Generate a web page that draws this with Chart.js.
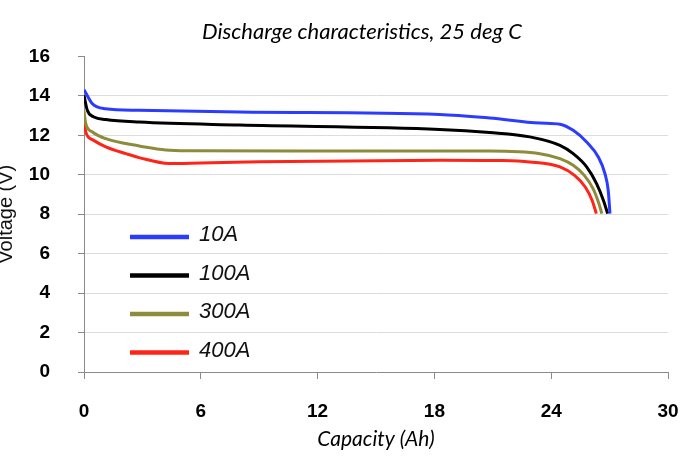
<!DOCTYPE html>
<html>
<head>
<meta charset="utf-8">
<script src="https://cdn.jsdelivr.net/npm/chart.js@4"></script>
<style>
  html, body { margin: 0; padding: 0; background: #ffffff; }
  #wrap { width: 700px; height: 466px; }
</style>
</head>
<body>
<div id="wrap"><canvas id="c" width="700" height="466"></canvas></div>
<script>
// ---- data ----
const seriesLabels = ['10A', '100A', '300A', '400A'];
const seriesColors = ['#2c3cff', '#000000', '#8c8c3a', '#ff2418'];

const cap10  = [0, 0.43, 1.1, 2.8, 7.98, 18.27, 20.84, 23.42, 24.45, 25.13, 25.82, 26.42, 26.76, 26.93, 27.02];
const volt10 = [14.31, 13.6, 13.35, 13.27, 13.18, 13.06, 12.88, 12.62, 12.56, 12.25, 11.66, 10.9, 10.06, 9.2, 8.03];

const cap100  = [0, 0.17, 0.51, 1.12, 2.83, 7.98, 18.27, 20.84, 22.9, 24.45, 25.13, 25.82, 26.33, 26.68, 26.9];
const volt100 = [14.03, 13.27, 12.93, 12.8, 12.67, 12.52, 12.3, 12.14, 11.92, 11.49, 11.07, 10.4, 9.55, 8.71, 8.03];

const cap300  = [0, 0.09, 0.43, 1.12, 2.15, 2.83, 4.2, 5.5, 12, 20.84, 23.42, 24.45, 25.13, 25.7, 26.15, 26.45, 26.6];
const volt300 = [13.23, 12.59, 12.17, 11.83, 11.58, 11.46, 11.26, 11.22, 11.2, 11.2, 11.07, 10.82, 10.48, 9.97, 9.3, 8.54, 8.03];

const cap400  = [0, 0.09, 0.43, 1.12, 2.15, 2.83, 4.37, 6, 9, 18.3, 21.5, 22.9, 24.45, 25.2, 25.75, 26.1, 26.32];
const volt400 = [12.9, 12.17, 11.78, 11.41, 11.07, 10.87, 10.57, 10.6, 10.66, 10.74, 10.72, 10.65, 10.4, 9.97, 9.38, 8.71, 8.03];

const xTicksMin = 0, xTicksMax = 30, xStep = 6;
const yTicksMin = 0, yTicksMax = 16, yStep = 2;

// ---- build datasets ----
const caps = [cap10, cap100, cap300, cap400];
const volts = [volt10, volt100, volt300, volt400];
const datasets = seriesLabels.map((lab, i) => ({
  label: lab,
  data: caps[i].map((x, j) => ({ x: x, y: volts[i][j] })),
  borderColor: seriesColors[i],
  backgroundColor: seriesColors[i],
  borderWidth: 3,
  pointRadius: 0,
  fill: false,
  cubicInterpolationMode: 'monotone'
}));

// custom in-plot legend
const insideLegend = {
  id: 'insideLegend',
  afterLayout(chart) {
    // centre the title over the plot like the reference
    if (chart.titleBlock) { chart.titleBlock.left = 56; }
  },
  afterDraw(chart) {
    const ctx = chart.ctx;
    ctx.save();
    chart.data.datasets.forEach((ds, i) => {
      const y = 237 + i * 38.5;
      ctx.strokeStyle = ds.borderColor;
      ctx.lineWidth = 4.5;
      ctx.lineCap = 'butt';
      ctx.beginPath();
      ctx.moveTo(130, y);
      ctx.lineTo(189, y);
      ctx.stroke();
      ctx.fillStyle = '#111111';
      ctx.font = 'italic 22px "Liberation Sans", Arial, sans-serif';
      ctx.textBaseline = 'middle';
      ctx.textAlign = 'left';
      ctx.fillText(ds.label, 199, y - 2);
    });
    ctx.restore();
  }
};

new Chart(document.getElementById('c'), {
  type: 'line',
  data: { datasets: datasets },
  plugins: [insideLegend],
  options: {
    responsive: false,
    animation: false,
    devicePixelRatio: 1,
    layout: { padding: { left: 0, right: 32, top: 0, bottom: 0 } },
    plugins: {
      legend: { display: false },
      tooltip: { enabled: false },
      title: {
        display: true,
        text: 'Discharge characteristics, 25 deg C',
        color: '#000000',
        font: { family: 'Lato', style: 'italic', size: 22, weight: 'normal' },
        padding: { top: 19, bottom: 11 }
      }
    },
    scales: {
      x: {
        type: 'linear',
        min: xTicksMin, max: xTicksMax,
        afterFit: (s) => { s.height = 94; },
        ticks: {
          stepSize: xStep,
          color: '#000000',
          padding: 21,
          maxRotation: 0,
          font: { family: '"Liberation Sans", Arial, sans-serif', weight: 'bold', size: 19 }
        },
        grid: { drawOnChartArea: false, drawTicks: true, tickLength: 7, tickColor: '#8a8a8a' },
        border: { color: '#8a8a8a', width: 1 },
        title: {
          display: true,
          text: 'Capacity (Ah)',
          color: '#000000',
          font: { family: 'Lato', style: 'italic', size: 21 },
          padding: { top: 14, bottom: 14 }
        }
      },
      y: {
        type: 'linear',
        min: yTicksMin, max: yTicksMax,
        afterFit: (s) => { s.width = 84; },
        ticks: {
          stepSize: yStep,
          color: '#000000',
          padding: 28,
          font: { family: '"Liberation Sans", Arial, sans-serif', weight: 'bold', size: 19 }
        },
        grid: {
          color: (ctx) => (ctx.tick && (ctx.tick.value === yTicksMax || ctx.tick.value === yTicksMin)) ? 'rgba(0,0,0,0)' : '#dcdcdc',
          lineWidth: 1,
          drawTicks: true,
          tickLength: 6,
          tickColor: '#8a8a8a'
        },
        border: { color: '#8a8a8a', width: 1 },
        title: {
          display: true,
          text: 'Voltage (V)',
          color: '#111111',
          font: { family: '"Liberation Sans", Arial, sans-serif', size: 20, lineHeight: 0.6 },
          padding: { top: 0, bottom: 0 }
        }
      }
    }
  }
});
</script>
</body>
</html>
